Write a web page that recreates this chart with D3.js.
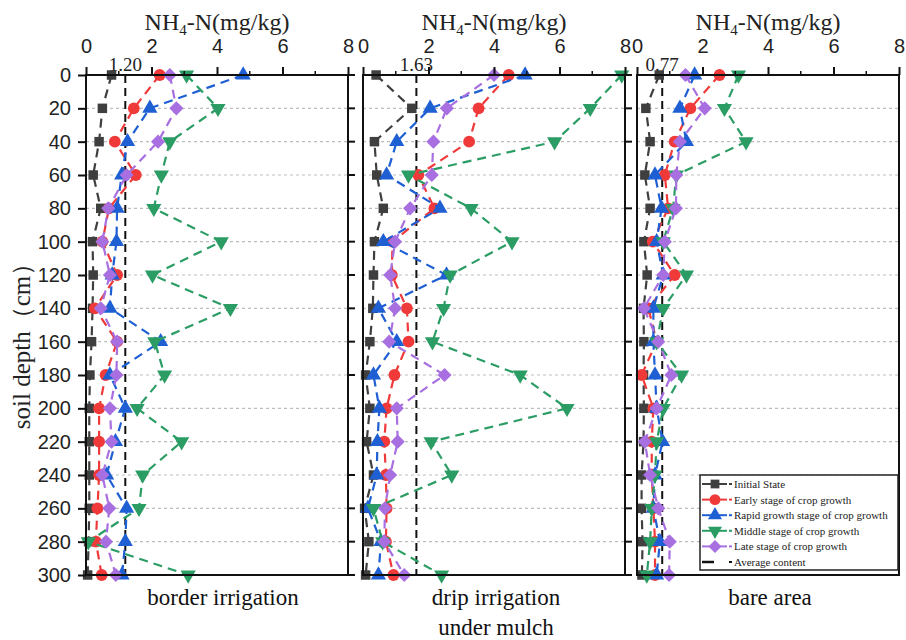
<!DOCTYPE html>
<html>
<head>
<meta charset="utf-8">
<script src="https://cdn.jsdelivr.net/npm/d3@7"></script>
<style>
  body { margin: 0; background: #fff; }
  svg { font-family: "Liberation Serif", "Times New Roman", serif; }
</style>
</head>
<body>
<div id="chart"></div>
<script>
// soil depths (cm) and tick values
var depths = [0, 20, 40, 60, 80, 100, 120, 140, 160, 180, 200, 220, 240, 260, 280, 300]
var xTicks = [0, 2, 4, 6, 8]
var xMinorTicks = [1, 3, 5, 7]

var seriesNames = ['Initial State', 'Early stage of crop growth', 'Rapid growth stage of crop growth',
  'Middle stage of crop growth', 'Late stage of crop growth']

// NH4-N (mg/kg), one value per depth
var borderInitial = [0.78, 0.5, 0.4, 0.22, 0.45, 0.2, 0.22, 0.2, 0.17, 0.12, 0.1, 0.1, 0.1, 0.1, 0.08, 0.05]
var borderEarly = [2.25, 1.46, 0.88, 1.52, 0.7, 0.5, 0.95, 0.27, 0.95, 0.6, 0.4, 0.4, 0.4, 0.35, 0.3, 0.48]
var borderRapid = [4.8, 1.95, 1.27, 1.09, 0.95, 0.93, 0.8, 0.73, 2.28, 0.73, 1.2, 0.9, 0.63, 1.24, 1.2, 1.1]
var borderMiddle = [3.07, 4.03, 2.56, 2.3, 2.07, 4.13, 2.03, 4.41, 2.1, 2.4, 1.56, 2.92, 1.73, 1.62, 0.07, 3.12]
var borderLate = [2.56, 2.76, 2.2, 1.24, 0.68, 0.5, 0.73, 0.45, 0.95, 0.93, 0.73, 0.78, 0.5, 0.71, 0.61, 0.91]

var dripInitial = [0.4, 1.49, 0.35, 0.42, 0.62, 0.35, 0.32, 0.3, 0.21, 0.08, 0.21, 0.11, 0.32, 0.05, 0.18, 0.08]
var dripEarly = [4.45, 3.53, 3.24, 1.69, 2.18, 0.9, 0.88, 1.34, 1.39, 0.96, 0.72, 0.65, 0.7, 0.72, 0.7, 0.93]
var dripRapid = [4.95, 2.05, 1.03, 0.72, 2.35, 0.62, 2.55, 0.47, 1.03, 0.32, 0.5, 0.44, 0.42, 0.15, 0.55, 0.47]
var dripMiddle = [7.9, 6.94, 5.85, 1.39, 3.3, 4.55, 2.66, 2.46, 2.12, 4.8, 6.23, 2.08, 2.71, 0.32, 0.6, 2.4]
var dripLate = [4.0, 2.56, 2.15, 2.1, 1.44, 0.98, 0.83, 0.98, 0.8, 2.49, 1.03, 1.06, 0.83, 0.67, 0.65, 1.26]

var bareInitial = [0.68, 0.27, 0.4, 0.24, 0.4, 0.21, 0.31, 0.2, 0.21, 0.2, 0.21, 0.2, 0.14, 0.14, 0.17, 0.15]
var bareEarly = [2.52, 1.63, 1.15, 0.85, 0.95, 0.48, 1.15, 0.35, 0.6, 0.14, 0.5, 0.45, 0.45, 0.5, 0.55, 0.55]
var bareRapid = [1.76, 1.31, 1.51, 0.55, 0.75, 0.6, 0.8, 0.5, 0.5, 0.55, 0.6, 0.78, 0.55, 0.5, 0.7, 0.6]
var bareMiddle = [3.1, 2.67, 3.33, 1.2, 1.1, 0.8, 1.51, 0.8, 0.6, 1.36, 0.8, 0.6, 0.55, 0.45, 0.4, 0.3]
var bareLate = [1.48, 2.07, 1.31, 1.2, 1.19, 0.85, 0.8, 0.21, 0.65, 1.05, 0.6, 0.24, 0.4, 0.65, 1.0, 0.98]

var averages = [1.20, 1.63, 0.77]
var panelNames = [['border irrigation'], ['drip irrigation', 'under mulch'], ['bare area']]

var panels = [
  { name: panelNames[0], avg: averages[0], series: [borderInitial, borderEarly, borderRapid, borderMiddle, borderLate] },
  { name: panelNames[1], avg: averages[1], series: [dripInitial, dripEarly, dripRapid, dripMiddle, dripLate] },
  { name: panelNames[2], avg: averages[2], series: [bareInitial, bareEarly, bareRapid, bareMiddle, bareLate] }
]

// styles
var colours = ['#3f3f3f', '#f03a3a', '#1e5fd4', '#2b9d64', '#a86fe0']
var shapes = [d3.symbolSquare, d3.symbolCircle, d3.symbolTriangle, d3.symbolTriangle, d3.symbolSquare]
var turns = [0, 0, 0, 180, 45]
var sizes = [90, 110, 100, 100, 100]

var w = 906
var h = 640
var plotTop = 75
var plotBottom = 575
var lefts = [86, 363, 637]
var pw = 262

var svg = d3.select('#chart').append('svg')
  .attr('width', w)
  .attr('height', h)

var y = d3.scaleLinear().domain([0, 300]).range([plotTop, plotBottom])

panels.forEach(function (p, i) {
  makePanel(p, i)
})

makeYTitle()
makeLegend(lefts[2] + 63, 475)

function makePanel(p, i) {
  var x0 = lefts[i]
  var x = d3.scaleLinear().domain([0, 8]).range([x0, x0 + pw])
  var g = svg.append('g')

  // dotted grid lines
  g.selectAll('.grid').data(depths.slice(1, -1)).enter()
    .append('line')
    .attr('x1', x0).attr('x2', x0 + pw)
    .attr('y1', function (d) { return y(d) })
    .attr('y2', function (d) { return y(d) })
    .attr('stroke', '#bdbdbd')
    .attr('stroke-width', 1.2)
    .attr('stroke-dasharray', '3,3')

  // average line
  g.append('line')
    .attr('x1', x(p.avg)).attr('x2', x(p.avg))
    .attr('y1', plotTop).attr('y2', plotBottom)
    .attr('stroke', '#111')
    .attr('stroke-width', 2)
    .attr('stroke-dasharray', '8,5')

  g.append('text')
    .attr('x', x(p.avg))
    .attr('y', 71)
    .attr('text-anchor', 'middle')
    .attr('font-size', 19)
    .attr('fill', '#222')
    .text(p.avg.toFixed(2))

  var line = d3.line()
    .x(function (d) { return x(d[1]) })
    .y(function (d) { return y(d[0]) })

  p.series.forEach(function (vals, s) {
    var pts = depths.map(function (d, k) { return [d, vals[k]] })
    g.append('path')
      .attr('d', line(pts))
      .attr('fill', 'none')
      .attr('stroke', colours[s])
      .attr('stroke-width', 2.2)
      .attr('stroke-dasharray', '9,6')

    g.selectAll('.m' + s).data(pts).enter()
      .append('path')
      .attr('d', d3.symbol().type(shapes[s]).size(sizes[s]))
      .attr('transform', function (d) {
        return 'translate(' + x(d[1]) + ',' + y(d[0]) + ') rotate(' + turns[s] + ')'
      })
      .attr('fill', colours[s])
  })

  // frame
  g.append('rect')
    .attr('x', x0).attr('y', plotTop)
    .attr('width', pw).attr('height', plotBottom - plotTop)
    .attr('fill', 'none')
    .attr('stroke', '#111')
    .attr('stroke-width', 2)

  // top axis
  var ax = g.append('g')
    .attr('transform', 'translate(0,' + plotTop + ')')
    .call(d3.axisTop(x).tickValues(xTicks).tickSize(8).tickPadding(14).tickFormat(d3.format('d')))
  ax.select('.domain').remove()
  ax.selectAll('line').attr('stroke', '#111').attr('stroke-width', 2)
  ax.selectAll('text').attr('font-size', 20).attr('fill', '#222').attr('font-family', null)

  g.selectAll('.minor').data(xMinorTicks).enter()
    .append('line')
    .attr('x1', function (d) { return x(d) })
    .attr('x2', function (d) { return x(d) })
    .attr('y1', plotTop).attr('y2', plotTop - 4)
    .attr('stroke', '#111')
    .attr('stroke-width', 1.5)

  // side ticks
  if (i == 0) {
    var ay = g.append('g')
      .attr('transform', 'translate(' + x0 + ',0)')
      .call(d3.axisLeft(y).tickValues(depths).tickSize(8).tickPadding(7))
    ay.select('.domain').remove()
    ay.selectAll('line').attr('stroke', '#111').attr('stroke-width', 2)
    ay.selectAll('text').attr('font-size', 20).attr('fill', '#222').attr('font-family', null)
  }
  if (i < 2) {
    g.selectAll('.rt').data(depths).enter()
      .append('line')
      .attr('x1', x0 + pw).attr('x2', x0 + pw + 7)
      .attr('y1', function (d) { return y(d) })
      .attr('y2', function (d) { return y(d) })
      .attr('stroke', '#111')
      .attr('stroke-width', 2)
  }

  // axis title
  var t = g.append('text')
    .attr('x', x0 + pw / 2)
    .attr('y', 30)
    .attr('text-anchor', 'middle')
    .attr('font-size', 24)
    .attr('fill', '#222')
  t.append('tspan').text('NH')
  t.append('tspan').attr('font-size', 15).attr('dy', 5).text('4')
  t.append('tspan').attr('dy', -5).text('-N(mg/kg)')

  // panel name
  p.name.forEach(function (s, k) {
    g.append('text')
      .attr('x', x0 + pw / 2 + (i == 0 ? 6 : 2))
      .attr('y', 605 + k * 30)
      .attr('text-anchor', 'middle')
      .attr('font-size', 23)
      .attr('fill', '#111')
      .text(s)
  })
}

function makeYTitle() {
  svg.append('text')
    .attr('transform', 'translate(30,340) rotate(-90)')
    .attr('text-anchor', 'middle')
    .attr('font-size', 25)
    .attr('fill', '#222')
    .text('soil depth（cm）')
}

function makeLegend(lx, ly) {
  var lg = svg.append('g').attr('transform', 'translate(' + lx + ',' + ly + ')')
  lg.append('rect')
    .attr('x', 0).attr('y', 0)
    .attr('width', 198).attr('height', 95)
    .attr('fill', '#fff')
    .attr('stroke', '#222')
    .attr('stroke-width', 1.5)

  var rows = seriesNames.concat(['Average content'])
  rows.forEach(function (name, k) {
    var ry = 9 + k * 15.6
    var c = k < 5 ? colours[k] : '#111'
    lg.append('line')
      .attr('x1', 2).attr('x2', k < 5 ? 27 : 14)
      .attr('y1', ry).attr('y2', ry)
      .attr('stroke', c)
      .attr('stroke-width', k < 5 ? 2 : 2.5)
    if (k < 5) {
      lg.append('path')
        .attr('d', d3.symbol().type(shapes[k]).size(sizes[k] * 0.85))
        .attr('transform', 'translate(15,' + ry + ') rotate(' + turns[k] + ')')
        .attr('fill', c)
    }
    lg.append('line')
      .attr('x1', 29).attr('x2', 32)
      .attr('y1', ry).attr('y2', ry)
      .attr('stroke', c)
      .attr('stroke-width', 2)
    lg.append('text')
      .attr('x', 34)
      .attr('y', ry + 4)
      .attr('font-size', 11)
      .attr('fill', '#222')
      .text(name)
  })
}
</script>
</body>
</html>
